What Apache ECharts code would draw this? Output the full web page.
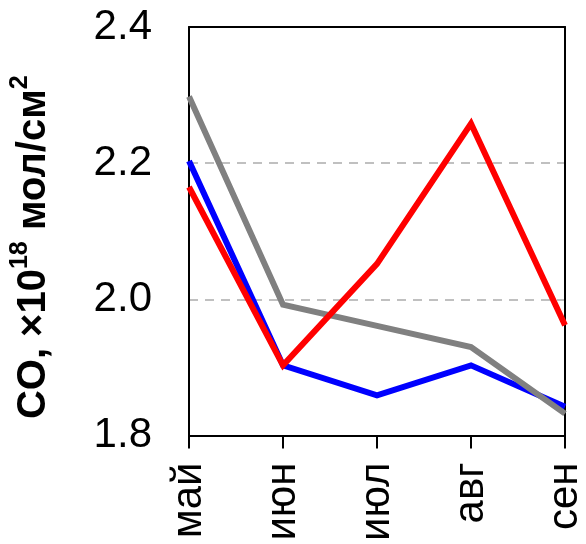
<!DOCTYPE html>
<html>
<head>
<meta charset="utf-8">
<script src="https://cdn.jsdelivr.net/npm/echarts@6/dist/echarts.min.js"></script>
<style>html,body{margin:0;padding:0;background:#fff}#c{width:586px;height:544px}</style>
</head>
<body>
<div id="c"></div>
<script>
var months = ['май', 'июн', 'июл', 'авг', 'сен'];
var blueValues = [2.203, 1.903, 1.859, 1.903, 1.842];
var grayValues = [2.298, 1.992, 1.961, 1.930, 1.832];
var redValues = [2.165, 1.903, 2.052, 2.258, 1.962];
var yTicks = [1.8, 2.0, 2.2, 2.4];

var FONT = 'Liberation Sans';
var chart = echarts.init(document.getElementById('c'), null, {renderer: 'canvas'});
function line(data, color, z) {
  return {type: 'line', data: data, symbol: 'none', z: z, xAxisIndex: 0, yAxisIndex: 0,
    lineStyle: {color: color, width: 6, cap: 'butt', join: 'miter'}};
}
chart.setOption({
  animation: false,
  grid: {left: 186, right: 19, top: 27, bottom: 107},
  xAxis: [{
    type: 'category', data: months, boundaryGap: false, position: 'bottom',
    axisLine: {lineStyle: {color: '#000', width: 2}},
    axisTick: {show: true, length: 13, lineStyle: {color: '#000', width: 2}},
    axisLabel: {rotate: 90, margin: 27, color: '#000', fontSize: 42, fontFamily: FONT},
    splitLine: {show: false}
  }, {
    type: 'category', data: months, boundaryGap: false, position: 'top',
    axisLine: {lineStyle: {color: '#000', width: 2}},
    axisTick: {show: false}, axisLabel: {show: false}, splitLine: {show: false}
  }],
  yAxis: [{
    type: 'value', min: 1.8, max: 2.4, interval: 0.2, position: 'left',
    axisLine: {show: true, lineStyle: {color: '#000', width: 2}},
    axisTick: {show: false},
    axisLabel: {margin: 37, color: '#000', fontSize: 42, fontFamily: FONT,
      formatter: function (v) { return yTicks.indexOf(Math.round(v * 10) / 10) >= 0 ? v.toFixed(1) : ''; }},
    splitLine: {show: true, lineStyle: {color: '#c0c0c0', width: 2, type: [9, 7]}},
    name: '{a|CO, ×10}{s|18}{a| мол/см}{s|2}',
    nameLocation: 'middle', nameRotate: 90, nameGap: 135,
    nameTextStyle: {
      padding: [0, 32, 0, 0],
      rich: {
        a: {fontSize: 40, fontWeight: 'bold', fontFamily: FONT, color: '#000', lineHeight: 46, verticalAlign: 'bottom'},
        s: {fontSize: 25, fontWeight: 'bold', fontFamily: FONT, color: '#000', lineHeight: 46, verticalAlign: 'top'}
      }
    }
  }, {
    type: 'value', min: 1.8, max: 2.4, interval: 0.2, position: 'right',
    axisLine: {show: true, lineStyle: {color: '#000', width: 2}},
    axisTick: {show: false}, axisLabel: {show: false}, splitLine: {show: false}
  }],
  series: [
    line(blueValues, '#0000ff', 2),
    line(grayValues, '#808080', 3),
    line(redValues, '#ff0000', 4)
  ]
});
</script>
</body>
</html>
